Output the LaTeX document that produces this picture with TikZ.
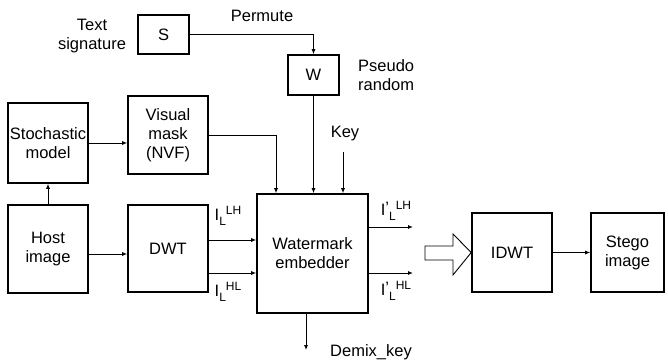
\documentclass[tikz,border=0pt]{standalone}
\usepackage{fontspec}
\setmainfont{Liberation Sans}
\usetikzlibrary{arrows.meta}
\newcommand{\subsup}[3]{#1\raisebox{-5pt}{\fontsize{12}{12}\selectfont #2}\raisebox{6pt}{\fontsize{12}{12}\selectfont #3}}
\newcommand{\subsupp}[3]{#1\raisebox{2pt}{'}\raisebox{-5pt}{\fontsize{12}{12}\selectfont #2}\raisebox{6pt}{\fontsize{12}{12}\selectfont #3}}
\begin{document}
\begin{tikzpicture}[x=1pt,y=-1pt,
  box/.style={draw,line width=1.6pt,inner sep=0pt,align=center},
  lbl/.style={inner sep=0pt,align=center},
  arr/.style={line width=0.9pt,-{Latex[length=5pt,width=4pt]}},
  every node/.style={font=\fontsize{16.5}{19}\selectfont}]
\useasboundingbox (0,0) rectangle (668,363);
% boxes
\node[box,minimum width=51pt,minimum height=39pt] (S) at (163.5,34.5) {S};
\node[box,minimum width=51pt,minimum height=40pt] (W) at (313.5,75) {W};
\node[box,minimum width=80pt,minimum height=80pt] (SM) at (48,143) {Stochastic\\model};
\node[box,minimum width=80pt,minimum height=78pt] (VM) at (168,135) {Visual\\mask\\(NVF)};
\node[box,minimum width=80pt,minimum height=88pt] (H) at (48,249) {Host\\image};
\node[box,minimum width=80pt,minimum height=87pt] (D) at (168,248.5) {DWT};
\node[box,minimum width=111pt,minimum height=119pt] (E) at (312.5,253.5) {Watermark\\embedder};
\node[box,minimum width=80pt,minimum height=79pt] (I) at (512,252.5) {IDWT};
\node[box,minimum width=73pt,minimum height=79pt] (G) at (627.5,252.5) {Stego\\image};
% text labels
\node[lbl] (ts) at (92,36) {Text\\signature};
\node[lbl] (pm) at (262,16) {Permute};
\node[lbl,align=left,anchor=west] (pr) at (358,75) {Pseudo\\random};
\node[lbl] (ky) at (345,134) {Key};
\node[lbl,anchor=west] (dk) at (330,352) {Demix\_key};
\node[lbl] (l1) at (228,216) {\subsup{I}{L}{LH}};
\node[lbl] (l2) at (228,292) {\subsup{I}{L}{HL}};
\node[lbl] (l3) at (396,211) {\subsupp{I}{L}{LH}};
\node[lbl] (l4) at (396,291) {\subsupp{I}{L}{HL}};
% coordinates
\coordinate (kt) at (343,152);
\coordinate (o1) at (413,227);
\coordinate (o2) at (413,273);
\coordinate (dm) at (306,350);
% connectors
\draw[arr] (S.east) -| (W.north);
\draw[arr] (W.south) -- (W.south |- E.north);
\draw[arr] (VM.east) -| (E.north -| 276,0);
\draw[arr] (kt) -- (kt |- E.north);
\draw[arr] (SM.east) -- (SM.east -| VM.west);
\draw[arr] (H.north) -- (SM.south);
\draw[arr] (H.east |- 0,254) -- (D.west |- 0,254);
\draw[arr] (D.east |- 0,240) -- (E.west |- 0,240);
\draw[arr] (D.east |- 0,273) -- (E.west |- 0,273);
\draw[arr] (E.east |- o1) -- (o1);
\draw[arr] (E.east |- o2) -- (o2);
\draw[arr] (E.south -| dm) -- (dm);
\draw[arr] (I.east) -- (G.west);
% hollow arrow
\draw[line width=0.9pt,line join=miter] (425,246) -- (453,246) -- (453,234) -- (I.west) -- (453,275) -- (453,260) -- (425,260) -- cycle;
\end{tikzpicture}
\end{document}
